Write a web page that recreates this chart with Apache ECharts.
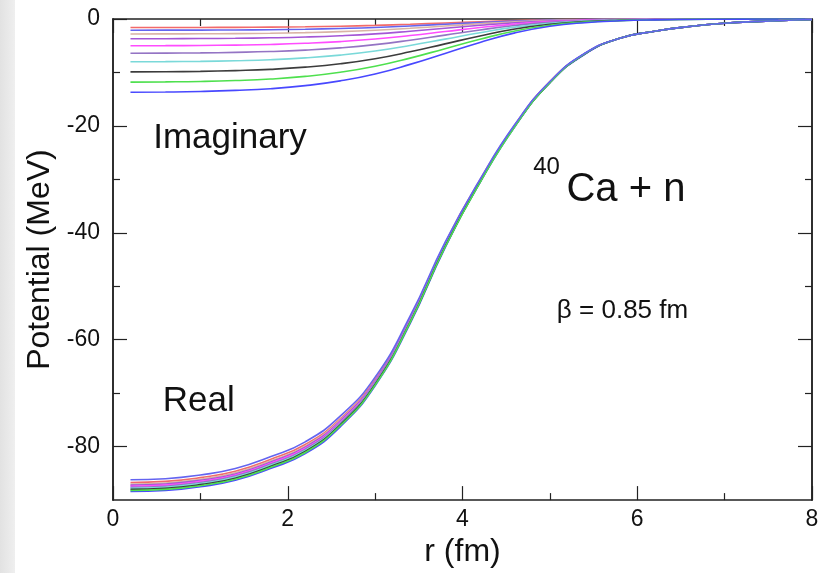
<!DOCTYPE html>
<html>
<head>
<meta charset="utf-8">
<script src="https://cdn.jsdelivr.net/npm/echarts@6/dist/echarts.min.js"></script>
<style>
  html, body { margin: 0; padding: 0; background: #ffffff; }
  #chart { width: 831px; height: 573px; }
</style>
</head>
<body>
<div id="chart"></div>
<script>
// Radial grid (fm) shared by every curve
const rs = [0.2, 0.6, 1.0, 1.4, 1.8, 2.2, 2.6, 3.0, 3.4, 3.8, 4.2, 4.6, 5.0, 5.4, 5.8, 6.2, 6.6, 7.0, 7.4, 7.8, 8.0];

// Imaginary parts (MeV), deepest first
const imagBlueDeep = [-13.7, -13.66, -13.56, -13.36, -13.04, -12.47, -11.58, -10.28, -8.49, -6.44, -4.38, -2.60, -1.37, -0.69, -0.34, -0.16, -0.08, -0.04, -0.01, 0, 0];
const imagGreen    = [-11.8, -11.76, -11.68, -11.51, -11.23, -10.74, -9.97, -8.85, -7.32, -5.55, -3.78, -2.24, -1.18, -0.59, -0.30, -0.14, -0.07, -0.04, -0.01, 0, 0];
const imagBlack    = [-9.9, -9.87, -9.80, -9.65, -9.42, -9.01, -8.37, -7.43, -6.14, -4.65, -3.17, -1.88, -0.99, -0.50, -0.25, -0.12, -0.06, -0.03, -0.01, 0, 0];
const imagCyan     = [-8.0, -7.98, -7.92, -7.80, -7.62, -7.28, -6.76, -6.00, -4.96, -3.76, -2.56, -1.52, -0.80, -0.40, -0.20, -0.10, -0.05, -0.02, -0.01, 0, 0];
const imagPurple   = [-6.4, -6.38, -6.34, -6.24, -6.09, -5.82, -5.41, -4.80, -3.97, -3.01, -2.05, -1.22, -0.64, -0.32, -0.16, -0.08, -0.04, -0.02, -0.01, 0, 0];
const imagMagenta  = [-5.0, -4.99, -4.95, -4.88, -4.76, -4.55, -4.23, -3.75, -3.10, -2.35, -1.60, -0.95, -0.50, -0.25, -0.13, -0.06, -0.03, -0.02, -0.01, 0, 0];
const imagViolet   = [-3.7, -3.69, -3.66, -3.61, -3.52, -3.37, -3.13, -2.78, -2.29, -1.74, -1.18, -0.70, -0.37, -0.19, -0.09, -0.04, -0.02, -0.01, 0, 0, 0];
const imagTan      = [-2.8, -2.79, -2.77, -2.73, -2.67, -2.55, -2.37, -2.10, -1.74, -1.32, -0.90, -0.53, -0.28, -0.14, -0.07, -0.03, -0.02, -0.01, 0, 0, 0];
const imagBlue     = [-2.1, -2.09, -2.08, -2.05, -2.00, -1.91, -1.77, -1.58, -1.30, -0.99, -0.67, -0.40, -0.21, -0.11, -0.05, -0.03, -0.01, -0.01, 0, 0, 0];
const imagRed      = [-1.6, -1.60, -1.58, -1.56, -1.52, -1.46, -1.35, -1.20, -0.99, -0.75, -0.51, -0.30, -0.16, -0.08, -0.04, -0.02, -0.01, 0, 0, 0, 0];

// Real parts (MeV), shallowest first
const realBlue     = [-86.2, -86.0, -85.3, -84.1, -81.9, -79.1, -74.3, -67.0, -55.6, -41.8, -30.0, -19.7, -11.7, -6.4, -3.6, -2.3, -1.4, -0.8, -0.45, -0.2, -0.1];
const realRed      = [-86.7, -86.5, -85.8, -84.6, -82.4, -79.6, -74.8, -67.4, -55.9, -42.0, -30.1, -19.8, -11.7, -6.5, -3.6, -2.3, -1.4, -0.8, -0.45, -0.2, -0.1];
const realTan      = [-87.0, -86.8, -86.1, -84.9, -82.7, -79.9, -75.0, -67.6, -56.1, -42.2, -30.2, -19.8, -11.8, -6.5, -3.6, -2.3, -1.4, -0.8, -0.45, -0.2, -0.1];
const realViolet   = [-87.2, -87.0, -86.3, -85.1, -82.9, -80.1, -75.2, -67.7, -56.2, -42.3, -30.3, -19.9, -11.8, -6.5, -3.6, -2.3, -1.4, -0.8, -0.45, -0.2, -0.1];
const realMagenta  = [-87.4, -87.2, -86.5, -85.3, -83.1, -80.3, -75.4, -67.9, -56.4, -42.3, -30.3, -19.9, -11.8, -6.5, -3.6, -2.3, -1.4, -0.8, -0.45, -0.2, -0.1];
const realPurple   = [-87.6, -87.4, -86.7, -85.5, -83.3, -80.5, -75.6, -68.0, -56.5, -42.4, -30.4, -20.0, -11.8, -6.5, -3.6, -2.3, -1.4, -0.8, -0.45, -0.2, -0.1];
const realCyan     = [-87.8, -87.6, -86.9, -85.7, -83.5, -80.7, -75.8, -68.2, -56.6, -42.5, -30.5, -20.0, -11.9, -6.5, -3.6, -2.3, -1.4, -0.8, -0.45, -0.2, -0.1];
const realBlack    = [-88.0, -87.8, -87.1, -85.9, -83.7, -80.9, -75.9, -68.3, -56.7, -42.6, -30.5, -20.0, -11.9, -6.5, -3.6, -2.3, -1.4, -0.8, -0.45, -0.2, -0.1];
const realGreen    = [-88.2, -88.0, -87.3, -86.1, -83.9, -81.1, -76.1, -68.5, -56.8, -42.7, -30.6, -20.1, -11.9, -6.5, -3.6, -2.3, -1.4, -0.8, -0.45, -0.2, -0.1];
const realBlueDeep = [-88.4, -88.2, -87.5, -86.3, -84.1, -81.3, -76.3, -68.6, -57.0, -42.8, -30.6, -20.1, -11.9, -6.6, -3.6, -2.3, -1.4, -0.8, -0.45, -0.2, -0.1];

// Axis ticks
const yMajorTicks = [-80, -60, -40, -20, 0];
const yMinorTicks = [-70, -50, -30, -10];

const curves = [
  { values: imagRed,      color: '#f26a6a' },
  { values: imagBlue,     color: '#6464f0' },
  { values: imagTan,      color: '#d9b3a6' },
  { values: imagViolet,   color: '#a456d6' },
  { values: imagMagenta,  color: '#ff4cff' },
  { values: imagPurple,   color: '#9474c4' },
  { values: imagCyan,     color: '#7ad9d9' },
  { values: imagBlack,    color: '#3c3c3c' },
  { values: imagGreen,    color: '#4ee04e' },
  { values: imagBlueDeep, color: '#4848ff' },
  { values: realRed,      color: '#f26a6a' },
  { values: realTan,      color: '#d9b3a6' },
  { values: realViolet,   color: '#a456d6' },
  { values: realMagenta,  color: '#ff4cff' },
  { values: realPurple,   color: '#9474c4' },
  { values: realCyan,     color: '#7ad9d9' },
  { values: realBlueDeep, color: '#4848ff' },
  { values: realBlack,    color: '#3c3c3c' },
  { values: realGreen,    color: '#4ee04e' },
  { values: realBlue,     color: '#6464f0' }
];

const FONT = '"Liberation Sans", Arial, Helvetica, sans-serif';
const AXIS_COLOR = '#222222';

const chart = echarts.init(document.getElementById('chart'), null, { renderer: 'canvas' });

function xAxisDef(pos, withLabels) {
  return {
    type: 'value', min: 0, max: 8, interval: 2, position: pos,
    axisLine: { show: true, onZero: false, lineStyle: { color: AXIS_COLOR, width: 1.5 } },
    axisTick: { show: true, inside: true, length: 14, lineStyle: { color: AXIS_COLOR, width: 1.2 } },
    minorTick: { show: true, splitNumber: 2, length: 7, lineStyle: { color: AXIS_COLOR, width: 1.2 } },
    axisLabel: { show: withLabels, fontSize: 23, color: '#111', fontFamily: FONT, margin: 8 },
    splitLine: { show: false },
    minorSplitLine: { show: false },
    name: withLabels ? 'r (fm)' : '',
    nameLocation: 'middle', nameGap: 33,
    nameTextStyle: { fontSize: 32, color: '#111', fontFamily: FONT }
  };
}

function yAxisDef(pos, ticks, len, withLabels) {
  return {
    type: 'value', min: -90, max: 0, position: pos,
    axisLine: { show: true, onZero: false, lineStyle: { color: AXIS_COLOR, width: 1.5 } },
    axisTick: { show: true, inside: true, length: len, customValues: ticks, lineStyle: { color: AXIS_COLOR, width: 1.2 } },
    axisLabel: { show: withLabels, customValues: ticks, fontSize: 23, color: '#111', fontFamily: FONT, margin: 13 },
    splitLine: { show: false },
    name: withLabels ? 'Potential (MeV)' : '',
    nameLocation: 'middle', nameGap: 51, nameRotate: 90,
    nameTextStyle: { fontSize: 32, color: '#111', fontFamily: FONT }
  };
}

const option = {
  backgroundColor: '#ffffff',
  animation: false,
  grid: { left: 113, right: 19, top: 19, bottom: 65, containLabel: false },
  xAxis: [xAxisDef('bottom', true), xAxisDef('top', false)],
  yAxis: [
    yAxisDef('left', yMajorTicks, 14, true),
    yAxisDef('left', yMinorTicks, 7, false),
    yAxisDef('right', yMajorTicks, 14, false),
    yAxisDef('right', yMinorTicks, 7, false)
  ],
  series: curves.map(function (c) {
    return {
      type: 'line',
      xAxisIndex: 0, yAxisIndex: 0,
      data: rs.map(function (r, i) { return [r, c.values[i]]; }),
      showSymbol: false, symbol: 'none',
      smooth: 0.5,
      lineStyle: { color: c.color, width: 1.6 },
      silent: true
    };
  })
};

chart.setOption(option);

// Annotations placed in data coordinates
function px(r, v) { return chart.convertToPixel({ gridIndex: 0 }, [r, v]); }
function label(r, v, text, size, vAlign) {
  const p = px(r, v);
  return {
    type: 'text', x: p[0], y: p[1], silent: true,
    style: { text: text, fontSize: size, fontFamily: FONT, fill: '#111', align: 'left', verticalAlign: vAlign || 'middle' }
  };
}

chart.setOption({
  graphic: [
    {
      type: 'rect', shape: { x: 0, y: 0, width: 15, height: 573 }, silent: true, z: -10,
      style: { fill: new echarts.graphic.LinearGradient(0, 0, 1, 0, [
        { offset: 0, color: '#e2e2e2' }, { offset: 1, color: '#efefef' }
      ]) }
    },
    label(0.46, -22.3, 'Imaginary', 35),
    label(0.57, -71.6, 'Real', 35),
    label(4.81, -27.8, '40', 24),
    label(5.19, -31.9, 'Ca + n', 40),
    label(5.08, -54.5, 'β = 0.85 fm', 26)
  ]
});
</script>
</body>
</html>
